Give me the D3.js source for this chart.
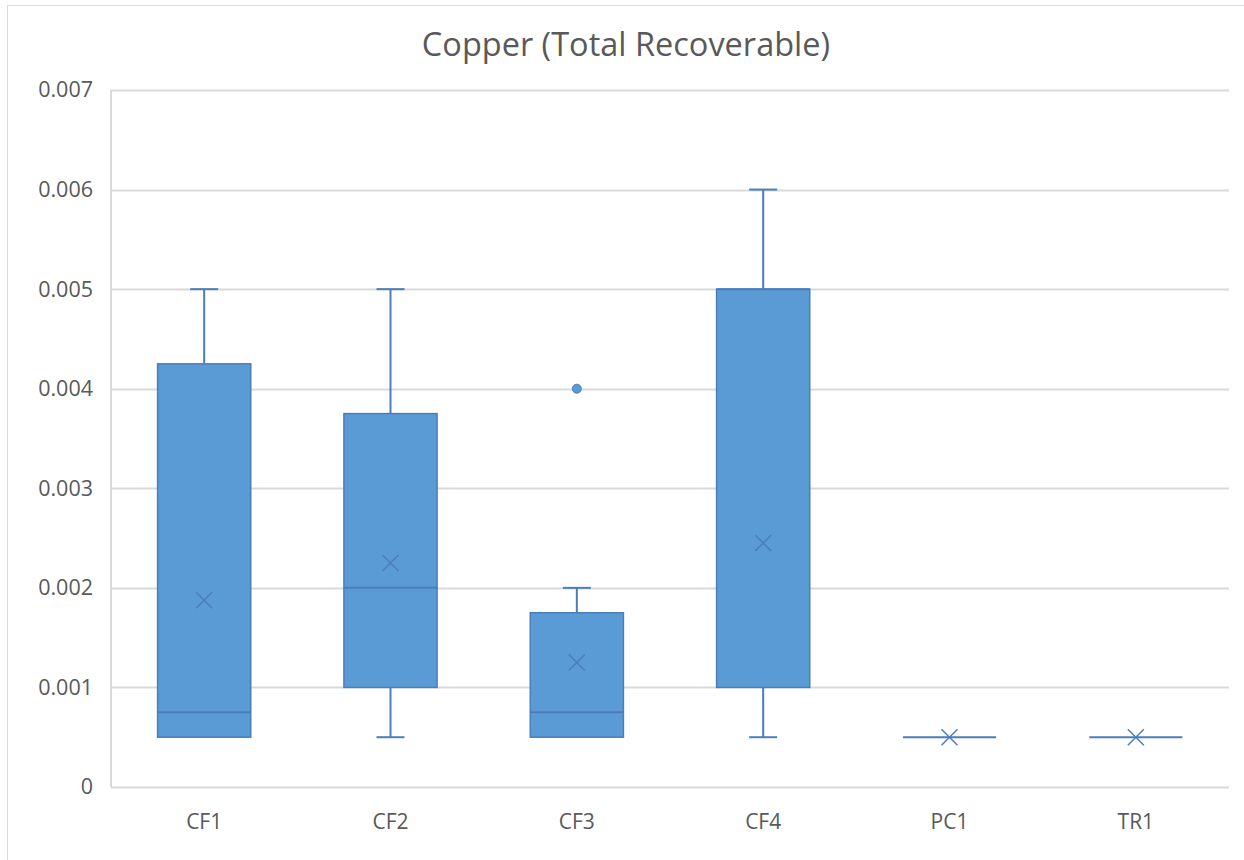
<!DOCTYPE html>
<html>
<head>
<meta charset="utf-8">
<script src="https://cdn.jsdelivr.net/npm/d3@7"></script>
<style>
  body { margin: 0; background: #fff; }
  svg text { font-family: "Open Sans", "Noto Sans", sans-serif; fill: #595959; }
</style>
</head>
<body>
<div id="chart"></div>
<script>
// box plot data
var sites = ["CF1", "CF2", "CF3", "CF4", "PC1", "TR1"];
var mins = [0.0005, 0.0005, 0.0005, 0.0005, 0.0005, 0.0005];
var q1s = [0.0005, 0.001, 0.0005, 0.001, 0.0005, 0.0005];
var medians = [0.00075, 0.002, 0.00075, 0.005, 0.0005, 0.0005];
var q3s = [0.00425, 0.00375, 0.00175, 0.005, 0.0005, 0.0005];
var maxs = [0.005, 0.005, 0.002, 0.006, 0.0005, 0.0005];
var means = [0.001875, 0.00225, 0.00125, 0.00245, 0.0005, 0.0005];
var outliers = [[], [], [0.004], [], [], []];
var yTicks = [0, 0.001, 0.002, 0.003, 0.004, 0.005, 0.006, 0.007];

var W = 1244, H = 860;
var margin = {left: 111, right: 15, top: 90, bottom: 73};

var svg = d3.select("#chart").append("svg")
  .attr("width", W)
  .attr("height", H);

// chart area border
svg.append("rect")
  .attr("x", 7.5).attr("y", 5.5)
  .attr("width", W + 20).attr("height", H + 20)
  .attr("fill", "#fff")
  .attr("stroke", "#d9d9d9");

var x = d3.scaleBand()
  .domain(sites)
  .range([margin.left, W - margin.right]);

var y = d3.scaleLinear()
  .domain([0, 0.007])
  .range([H - margin.bottom, margin.top]);

// gridlines
svg.append("g").selectAll("line")
  .data(yTicks)
  .enter().append("line")
  .attr("x1", margin.left).attr("x2", W - margin.right)
  .attr("y1", d => Math.round(y(d)) + 0.5)
  .attr("y2", d => Math.round(y(d)) + 0.5)
  .attr("stroke", "#d9d9d9")
  .attr("stroke-width", 2);

// left axis line
svg.append("line")
  .attr("x1", margin.left).attr("x2", margin.left)
  .attr("y1", y(0.007)).attr("y2", y(0))
  .attr("stroke", "#d9d9d9")
  .attr("stroke-width", 2);

var yAxis = svg.append("g")
  .attr("transform", "translate(" + margin.left + ",0)")
  .call(d3.axisLeft(y).tickValues(yTicks).tickSize(0).tickPadding(18)
    .tickFormat(d => d === 0 ? "0" : d3.format(".3f")(d)));
yAxis.select(".domain").remove();
yAxis.selectAll("text").attr("font-size", 21.5).style("fill", "#595959");

var xAxis = svg.append("g")
  .attr("transform", "translate(0," + y(0) + ")")
  .call(d3.axisBottom(x).tickSize(0).tickPadding(27));
xAxis.select(".domain").remove();
xAxis.selectAll("text").attr("font-size", 21).style("fill", "#595959");

// title
svg.append("text")
  .attr("x", W / 2 + 4)
  .attr("y", 56)
  .attr("text-anchor", "middle")
  .attr("font-size", 32.5)
  .text("Copper (Total Recoverable)");

var fill = "#5b9bd5", stroke = "#4a7ebb";
var boxW = x.bandwidth() * 0.5;
var capW = 28;

var g = svg.append("g");

sites.forEach(function(s, i) {
  var cx = x(s) + x.bandwidth() / 2;

  // whiskers
  g.append("line")
    .attr("x1", cx).attr("x2", cx)
    .attr("y1", y(maxs[i])).attr("y2", y(q3s[i]))
    .attr("stroke", stroke).attr("stroke-width", 2);
  g.append("line")
    .attr("x1", cx).attr("x2", cx)
    .attr("y1", y(q1s[i])).attr("y2", y(mins[i]))
    .attr("stroke", stroke).attr("stroke-width", 2);
  if (maxs[i] > q3s[i]) {
    g.append("line")
      .attr("x1", cx - capW / 2).attr("x2", cx + capW / 2)
      .attr("y1", y(maxs[i])).attr("y2", y(maxs[i]))
      .attr("stroke", stroke).attr("stroke-width", 2);
  }
  if (mins[i] < q1s[i]) {
    g.append("line")
      .attr("x1", cx - capW / 2).attr("x2", cx + capW / 2)
      .attr("y1", y(mins[i])).attr("y2", y(mins[i]))
      .attr("stroke", stroke).attr("stroke-width", 2);
  }

  // box
  g.append("rect")
    .attr("x", cx - boxW / 2)
    .attr("y", y(q3s[i]))
    .attr("width", boxW)
    .attr("height", Math.max(0, y(q1s[i]) - y(q3s[i])))
    .attr("fill", fill)
    .attr("stroke", stroke)
    .attr("stroke-width", 1.5);

  // median
  g.append("line")
    .attr("x1", cx - boxW / 2).attr("x2", cx + boxW / 2)
    .attr("y1", y(medians[i])).attr("y2", y(medians[i]))
    .attr("stroke", stroke).attr("stroke-width", 2);

  // mean marker
  var m = y(means[i]), k = 8;
  g.append("path")
    .attr("d", "M" + (cx - k) + "," + (m - k) + "L" + (cx + k) + "," + (m + k) +
               "M" + (cx - k) + "," + (m + k) + "L" + (cx + k) + "," + (m - k))
    .attr("stroke", stroke).attr("stroke-width", 1.5)
    .attr("fill", "none");

  // outliers
  outliers[i].forEach(function(v) {
    g.append("circle")
      .attr("cx", cx).attr("cy", y(v))
      .attr("r", 4.5)
      .attr("fill", fill)
      .attr("stroke", stroke);
  });
});
</script>
</body>
</html>
